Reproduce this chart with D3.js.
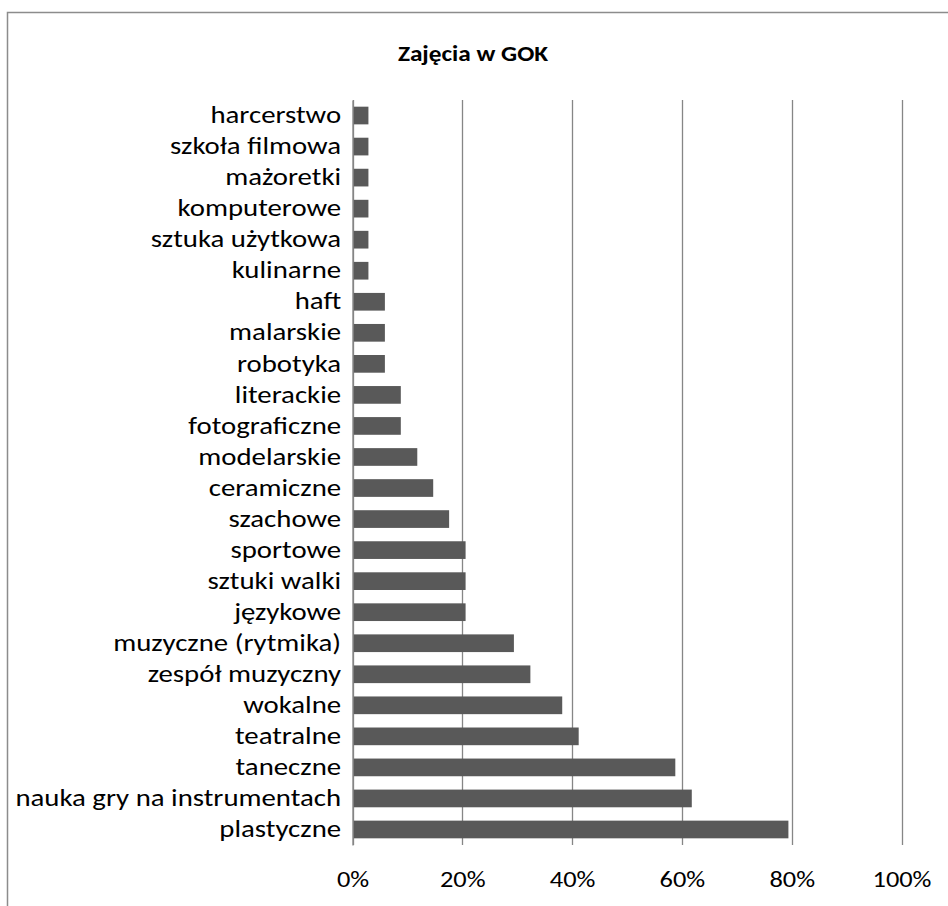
<!DOCTYPE html>
<html>
<head>
<meta charset="utf-8">
<script src="https://cdn.jsdelivr.net/npm/d3@7"></script>
<style>
  body { margin: 0; background: #fff; }
  svg text { font-family: Calibri, Carlito, Lato, sans-serif; fill: #000; }
</style>
</head>
<body>
<div id="container"></div>
<script>
const width = 948;
const height = 906;

// kategorie od góry do dołu
const categories = [
  "harcerstwo", "szkoła filmowa", "mażoretki", "komputerowe", "sztuka użytkowa",
  "kulinarne", "haft", "malarskie", "robotyka", "literackie", "fotograficzne",
  "modelarskie", "ceramiczne", "szachowe", "sportowe", "sztuki walki", "językowe",
  "muzyczne (rytmika)", "zespół muzyczny", "wokalne", "teatralne", "taneczne ",
  "nauka gry na instrumentach", "plastyczne"
];
const values = [
  2.9, 2.9, 2.9, 2.9, 2.9, 2.9, 5.9, 5.9, 5.9, 8.8, 8.8, 11.8, 14.7, 17.6,
  20.6, 20.6, 20.6, 29.4, 32.4, 38.2, 41.2, 58.8, 61.8, 79.4
];
const tickValues = [0, 20, 40, 60, 80, 100];
const title = "Zajęcia w GOK";

const marginTop = 100;
const marginBottom = 61;
const marginLeft = 352.5;
const marginRight = 46.5;
// obrazek źródłowy jest nieco rozciągnięty w poziomie
const stretch = "scale(1.2,1)";

const data = categories.map((c, i) => ({ name: c, value: values[i] }));

const x = d3.scaleLinear()
  .domain([0, 100])
  .range([marginLeft, width - marginRight]);

const y = d3.scaleBand()
  .domain(categories)
  .range([marginTop, height - marginBottom])
  .paddingInner(0.43)
  .paddingOuter(0.215);

const svg = d3.create("svg")
  .attr("width", width)
  .attr("height", height);

// ramka wykresu
svg.append("rect")
  .attr("x", 7.5)
  .attr("y", 12.5)
  .attr("width", 1000)
  .attr("height", 1000)
  .attr("fill", "none")
  .attr("stroke", "#8c8c8c")
  .attr("stroke-width", 1.5);

svg.append("g")
  .attr("transform", "translate(473,61)")
  .append("text")
  .attr("text-anchor", "middle")
  .attr("transform", "scale(1.1,1)")
  .style("font-size", "23px")
  .style("font-weight", "bold")
  .text(title);

// linie siatki
svg.append("g")
  .selectAll("line")
  .data(tickValues)
  .join("line")
  .attr("x1", d => Math.round(x(d)) + 0.5)
  .attr("x2", d => Math.round(x(d)) + 0.5)
  .attr("y1", marginTop)
  .attr("y2", height - marginBottom)
  .attr("stroke", "#868686")
  .attr("stroke-width", 1.3);

const xAxis = svg.append("g")
  .attr("transform", `translate(0,${height - marginBottom})`)
  .call(d3.axisBottom(x).tickValues(tickValues).tickFormat(d => d + "%").tickSize(0).tickPadding(26));
xAxis.select(".domain").remove();
xAxis.selectAll("text")
  .attr("transform", stretch)
  .style("font-size", "22px")
  .style("font-family", "Calibri, Carlito, Lato, sans-serif");

svg.append("g")
  .selectAll("rect")
  .data(data)
  .join("rect")
  .attr("x", x(0) + 1)
  .attr("y", d => y(d.name))
  .attr("width", d => x(d.value) - x(0) - 1)
  .attr("height", y.bandwidth())
  .attr("fill", "#595959");

const yAxis = svg.append("g")
  .attr("transform", `translate(${x(0)},0)`)
  .call(d3.axisLeft(y).tickSize(0).tickPadding(9.5));
yAxis.select(".domain").attr("stroke", "#868686").attr("stroke-width", 1.3);
yAxis.selectAll("text")
  .attr("transform", stretch)
  .style("font-size", "24px")
  .style("font-family", "Calibri, Carlito, Lato, sans-serif");

container.append(svg.node());
</script>
</body>
</html>
